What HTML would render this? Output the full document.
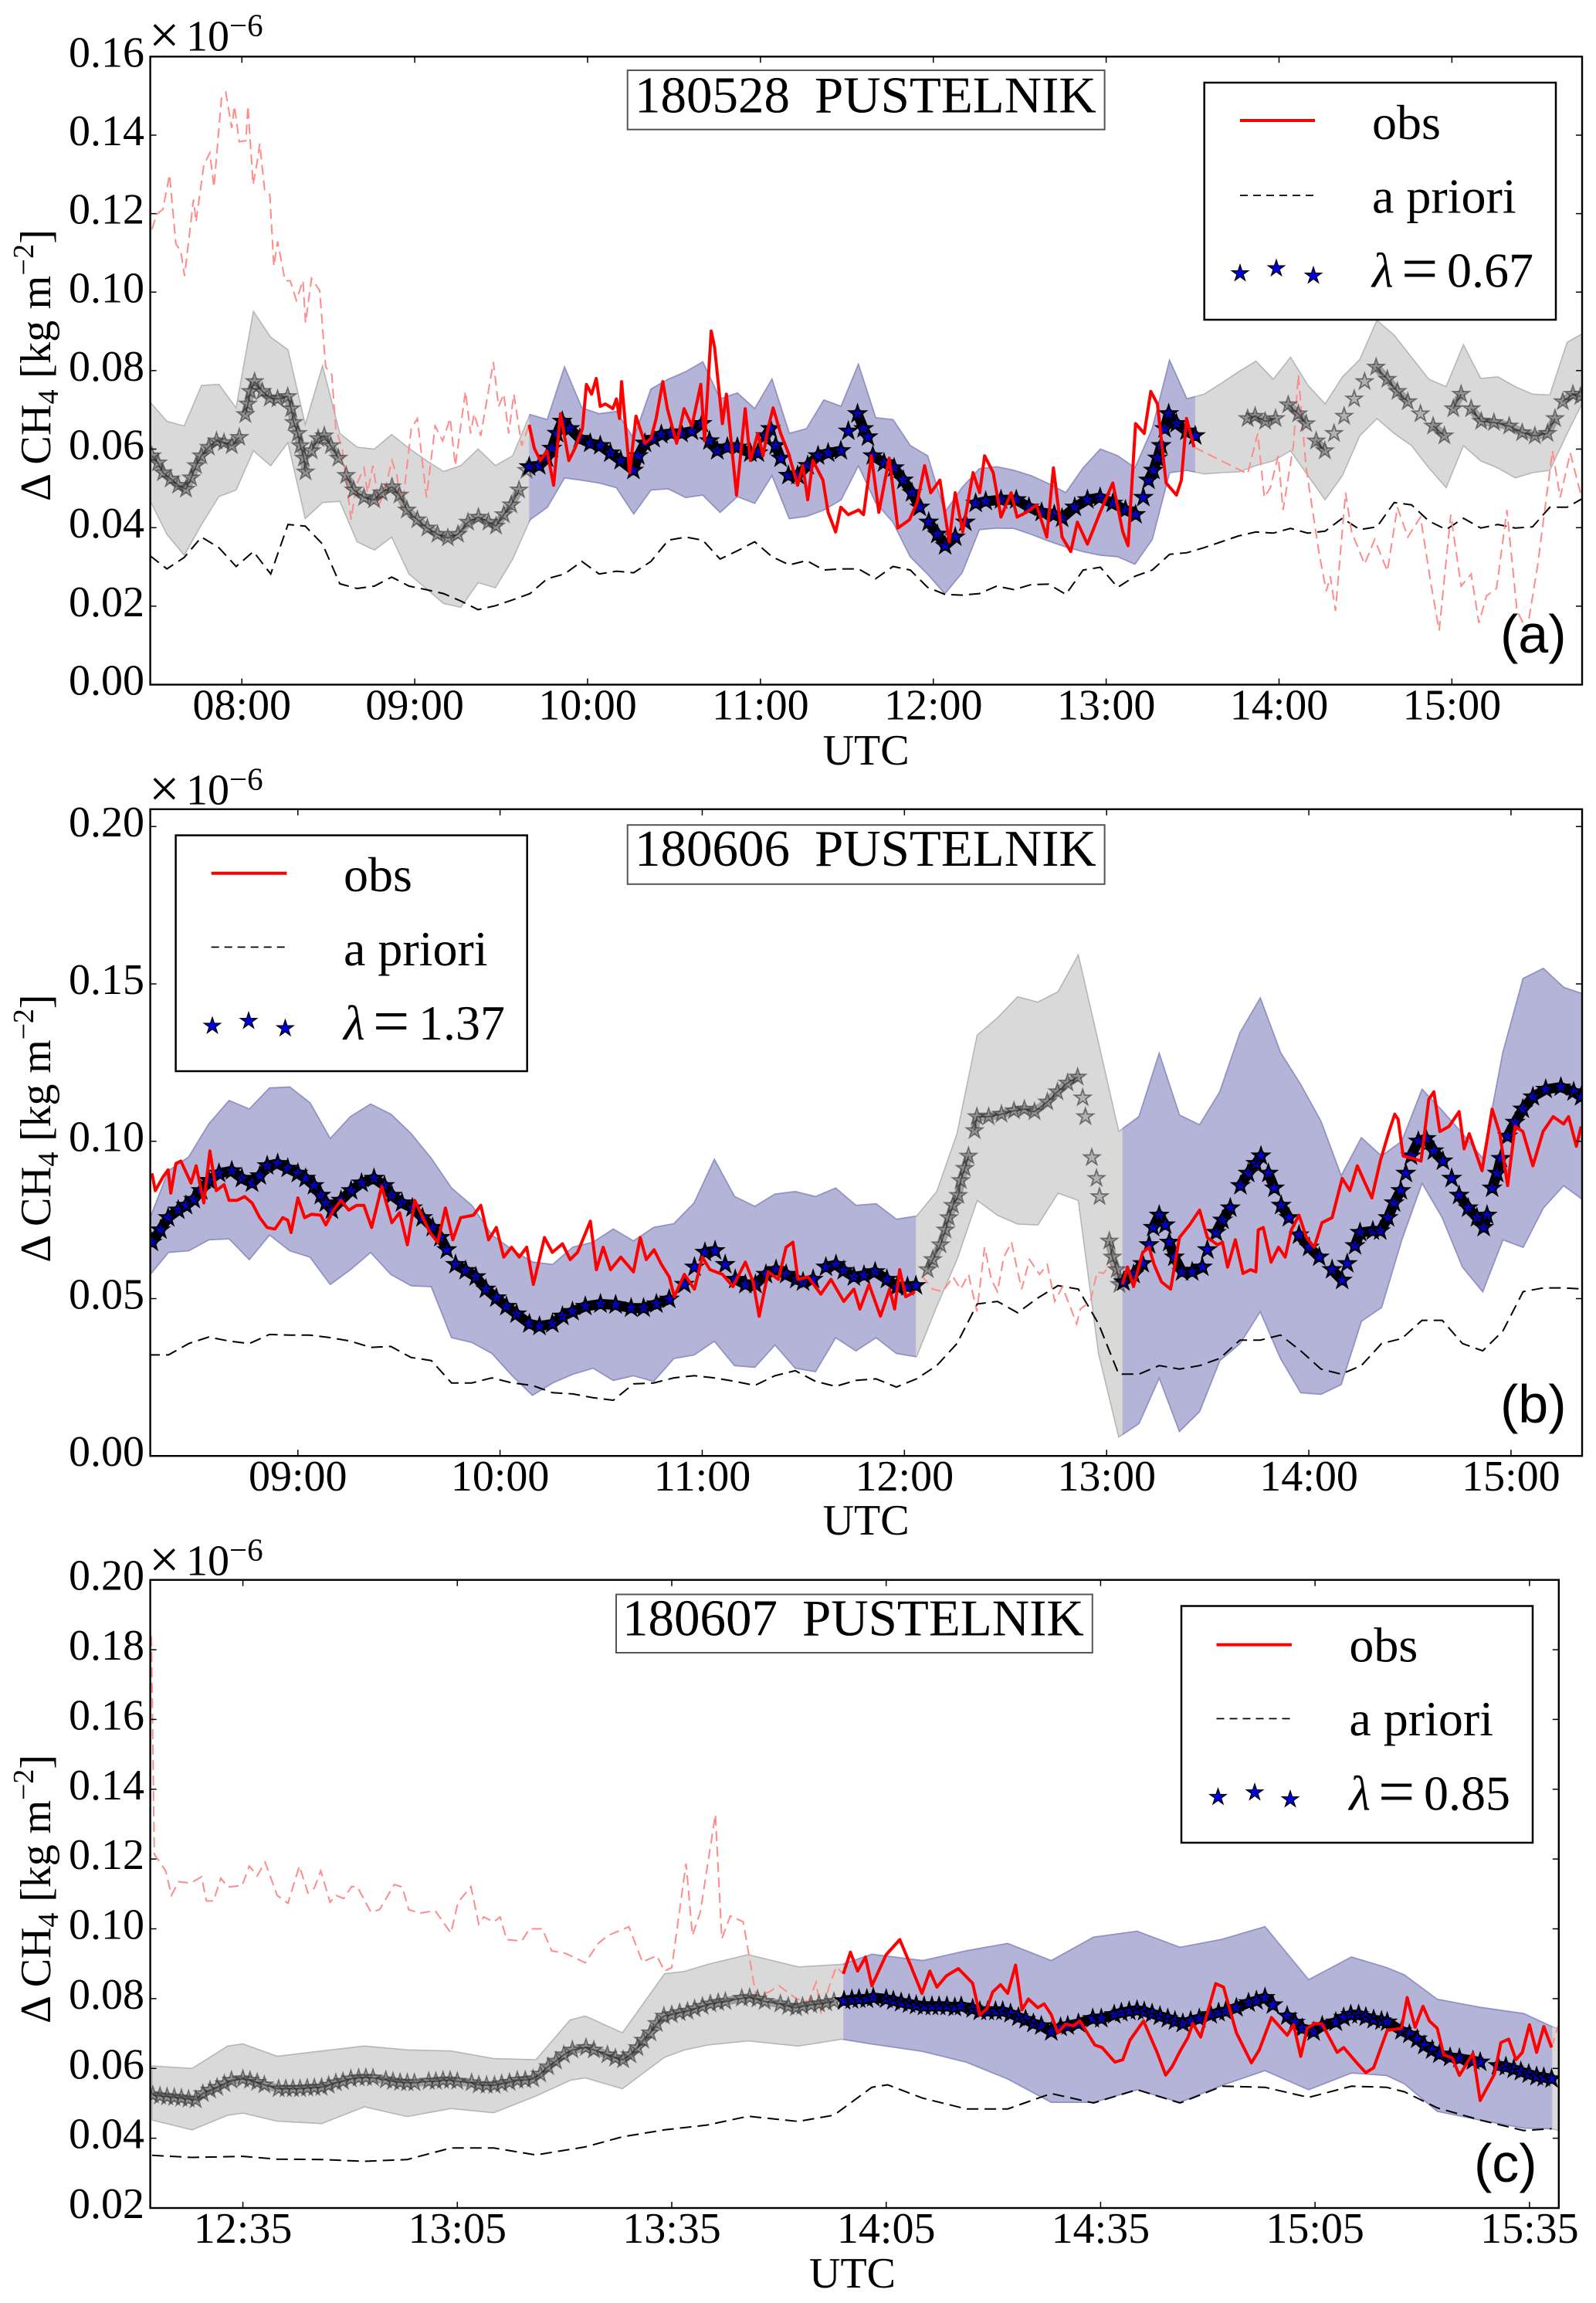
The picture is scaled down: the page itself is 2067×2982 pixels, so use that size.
<!DOCTYPE html>
<html lang="en">
<head>
<meta charset="utf-8">
<title>CH4 column enhancement, Pustelnik</title>
<style>
html,body{margin:0;padding:0;background:#fff}
svg{display:block}
text{font-family:"Liberation Serif",serif;fill:#000}
.tick{font-size:56px}
.title{font-size:67px}
.leg{font-size:64px}
.panel-tag{font-family:"Liberation Sans",sans-serif;font-size:70px}
</style>
</head>
<body>
<svg id="figure" xmlns="http://www.w3.org/2000/svg" width="2067" height="2982" viewBox="0 0 2067 2982">
<rect width="2067" height="2982" fill="#fff"/>
<defs>
<clipPath id="clip-a"><rect x="194.6" y="73.3" width="1854.4" height="813.2"/></clipPath>
<clipPath id="clip-b"><rect x="194.6" y="1047.8" width="1854.4" height="837.4"/></clipPath>
<clipPath id="clip-c"><rect x="194.6" y="2045.7" width="1824.2" height="813.3"/></clipPath>
</defs>

<g id="panel-a">
<g id="marks-a" clip-path="url(#clip-a)"></g>
<g id="axes-a"></g>
<text x="193" y="68.7" font-size="70">×</text>
<text class="tick" x="241" y="65.7">10</text>
<text x="297" y="46.5" font-size="41">−6</text>
<text class="tick" transform="translate(65,649) rotate(-90)" textLength="352">Δ CH<tspan font-size="38" dy="10">4</tspan><tspan dy="-10"> [kg m</tspan><tspan font-size="38" dy="-22">−2</tspan><tspan dy="22">]</tspan></text>
<text class="tick" x="1121.6" y="990" text-anchor="middle">UTC</text>
<rect x="812.7" y="91" width="617.9" height="76.7" fill="#fff" stroke="#555" stroke-width="2"/>
<text class="title" x="822" y="145.4">180528</text>
<text class="title" x="1055" y="145.4">PUSTELNIK</text>
<g>
<rect x="1559.7" y="107" width="455.3" height="307" fill="#fff" stroke="#000" stroke-width="2.5"/>
<line x1="1606" x2="1703" y1="156" y2="156" stroke="#f00" stroke-width="4"/>
<text class="leg" x="1777" y="180">obs</text>
<line x1="1606" x2="1703" y1="253" y2="253" stroke="#000" stroke-width="1.7" stroke-dasharray="10 7"/>
<text class="leg" x="1777" y="275.5">a priori</text>
<g class="legend-stars" data-points="1606,354 1653,347.6 1701,357"></g>
<text class="leg" x="1777" y="371.7"><tspan font-style="italic">λ</tspan><tspan x="1815" y="376" font-size="84">=</tspan><tspan x="1874" y="371.7">0.67</tspan></text>
</g>
<text class="panel-tag" x="1943" y="845">(a)</text>
</g>

<g id="panel-b">
<g id="marks-b" clip-path="url(#clip-b)"></g>
<g id="axes-b"></g>
<text x="193" y="1044.5" font-size="70">×</text>
<text class="tick" x="241" y="1041.5">10</text>
<text x="297" y="1022.3" font-size="41">−6</text>
<text class="tick" transform="translate(65,1634.6) rotate(-90)" textLength="347">Δ CH<tspan font-size="38" dy="10">4</tspan><tspan dy="-10"> [kg m</tspan><tspan font-size="38" dy="-22">−2</tspan><tspan dy="22">]</tspan></text>
<text class="tick" x="1121.6" y="1987" text-anchor="middle">UTC</text>
<rect x="812.7" y="1068.2" width="617.9" height="76.6" fill="#fff" stroke="#555" stroke-width="2"/>
<text class="title" x="822" y="1121">180606</text>
<text class="title" x="1055" y="1121">PUSTELNIK</text>
<g>
<rect x="227.6" y="1081.6" width="455.1" height="305.4" fill="#fff" stroke="#000" stroke-width="2.5"/>
<line x1="273.7" x2="371.4" y1="1130.7" y2="1130.7" stroke="#f00" stroke-width="4"/>
<text class="leg" x="445" y="1154">obs</text>
<line x1="273.7" x2="371.4" y1="1226.4" y2="1226.4" stroke="#000" stroke-width="1.7" stroke-dasharray="10 7"/>
<text class="leg" x="445" y="1250">a priori</text>
<g class="legend-stars" data-points="275,1328.4 322,1322 369.4,1331.6"></g>
<text class="leg" x="445" y="1346"><tspan font-style="italic">λ</tspan><tspan x="483" y="1350.3" font-size="84">=</tspan><tspan x="542" y="1346">1.37</tspan></text>
</g>
<text class="panel-tag" x="1943" y="1842">(b)</text>
</g>

<g id="panel-c">
<g id="marks-c" clip-path="url(#clip-c)"></g>
<g id="axes-c"></g>
<text x="193" y="2042.6" font-size="70">×</text>
<text class="tick" x="241" y="2039.6">10</text>
<text x="297" y="2020.4" font-size="41">−6</text>
<text class="tick" transform="translate(65,2620) rotate(-90)" textLength="348">Δ CH<tspan font-size="38" dy="10">4</tspan><tspan dy="-10"> [kg m</tspan><tspan font-size="38" dy="-22">−2</tspan><tspan dy="22">]</tspan></text>
<text class="tick" x="1104" y="2962" text-anchor="middle">UTC</text>
<rect x="798" y="2064.5" width="616.8" height="75.5" fill="#fff" stroke="#555" stroke-width="2"/>
<text class="title" x="806" y="2117.7">180607</text>
<text class="title" x="1039" y="2117.7">PUSTELNIK</text>
<g>
<rect x="1530" y="2079.5" width="455" height="306.5" fill="#fff" stroke="#000" stroke-width="2.5"/>
<line x1="1575.5" x2="1673" y1="2129.6" y2="2129.6" stroke="#f00" stroke-width="4"/>
<text class="leg" x="1747.4" y="2151.5">obs</text>
<line x1="1575.5" x2="1673" y1="2225.4" y2="2225.4" stroke="#000" stroke-width="1.7" stroke-dasharray="10 7"/>
<text class="leg" x="1747.4" y="2247">a priori</text>
<g class="legend-stars" data-points="1577.5,2326.9 1625,2321 1671,2330"></g>
<text class="leg" x="1747.4" y="2343.5"><tspan font-style="italic">λ</tspan><tspan x="1785" y="2347.8" font-size="84">=</tspan><tspan x="1844" y="2343.5">0.85</tspan></text>
</g>
<text class="panel-tag" x="1909" y="2825">(c)</text>
</g>
</svg>

<script>
// All times are minutes after 00:00 UTC. All values are in units of 10^-9 kg m^-2.

// ---------- Panel (a) 180528 ----------
const aXTickMinutes = [480,540,600,660,720,780,840,900];
const aXTickLabels = ['08:00','09:00','10:00','11:00','12:00','13:00','14:00','15:00'];
const aYTickValues = [0,20,40,60,80,100,120,140,160];
const aYTickLabels = ['0.00','0.02','0.04','0.06','0.08','0.10','0.12','0.14','0.16'];
const aFitWindows = [[579.7,810.9]];
const aBandMinutes = [448,454,460,466,472,478,484,490,496,502,508,514,520,526,532,538,544,550,556,562,568,574,580,586,592,598,604,610,616,622,628,634,640,646,652,658,664,670,676,682,688,694,700,706,712,718,724,730,736,742,748,754,760,766,772,778,784,790,796,802,808,814,820,826,832,838,844,850,856,862,868,874,880,886,892,898,904,910,916,922,928,934,940,946];
const aBandUpper = [72.1,67.1,65.9,76.2,76.5,70.5,95.1,88.5,85.3,66.2,81.2,64,60.5,60,63.7,60.2,57.1,54.3,55.8,60,55.8,58.3,68.8,67.5,80.9,70.5,69,69.6,62.7,75.3,77.8,79.7,82.2,72.8,74.3,70.3,77.8,64,65.2,72.5,70.9,81.6,68,67.5,60.9,58.3,43.9,50.2,55,55.5,54.6,53.2,51.2,48.9,55.2,60,58.3,55.2,65.2,82.6,72.8,74,76.8,79.7,82.4,77.8,83.4,76.3,71.5,78.4,82.8,92.8,89,83.4,77.8,75.9,86.6,78,78.4,75.9,74,73.8,87.2,89.7];
const aBandLower = [47.1,38.3,33,40.8,47.9,49.6,59.6,55.8,61.7,42.3,46.4,46.7,36.4,34.3,37.6,28.2,24.5,20.7,19.7,26,24.7,32,42,45.2,52.7,52.1,51.4,50.2,43.5,49.6,49.9,47.7,48.3,43.9,47.9,46.2,53.3,42.3,42.9,44.5,47.1,55.8,46.4,41.4,32.6,28.2,23.2,28.5,39.5,39.9,39.8,38.3,36.6,35.1,33.9,33,32.6,30.7,37,54,54.6,53.7,54,54.2,55.8,57,59.6,53.3,47.1,53.3,63.4,67.8,64,60.9,55.2,50.2,60.9,57,55.2,52.7,54,54.6,64,72.8];
const aPriorValues = [32.9,29.5,32.4,37.6,34.9,30.1,33.9,28.2,40.8,40.4,35.8,25.7,24.5,25.1,27.4,25.1,24.2,23.2,21.3,19.1,20.1,21.6,23.2,27,28.2,31.4,28.2,28.9,28.5,31.4,36.8,37.6,36.8,32,34.1,36.4,32.6,30.5,31.6,29.2,29.5,29.5,27,30.1,29.2,24.8,23,22.8,23.2,25.1,24.2,25.5,25.6,23,29.2,29.9,24.8,27.6,29.2,33.2,33.6,34.9,36.4,37.9,38.9,38.6,39.8,38.6,39.1,42.4,39.5,40.2,46.4,45.8,41.7,39.5,42.4,39.9,40.8,39.9,40.2,45.2,45.2,47.7];
const aObsMinutes = [448.8,450.4,452.6,454.9,457.1,458.8,460.1,463.2,464.1,466.8,468.9,470.3,472.9,474.4,476.5,477.4,479.1,481.4,482.1,483.9,485.3,486.2,487.9,489.7,491.1,492.4,495,496.8,498.9,501.2,502.1,504.2,507,509.1,511.2,512.6,514.8,517.9,519.7,522.4,523.6,525.5,527.6,529.4,532.1,533.8,535.6,538.8,540.9,544.1,547.1,549.7,552.3,554.1,557.6,559.4,560.6,562.9,567.3,569.1,570.9,572.6,574.4,577.1,579.7,
581.5,583.6,585.9,588.2,590.6,593.5,595.6,598.2,599.6,601.4,603,604.4,606.2,608.8,610,611.1,611.8,614.6,616.8,619.9,622,623.8,626.1,627.7,630.9,633.5,636.2,639.3,640.6,642.9,644.1,646.8,648.2,651.7,654.7,656.5,659.1,660.9,662.6,664.4,667,669.7,
672.9,674.7,676.4,678.2,681.7,683.5,686.1,687.9,690.5,694.1,695.8,698.5,701.1,704.7,707.7,711.7,714.4,717,719.1,722.3,725.5,727.6,730.2,733.8,736.1,737.8,740.8,743.5,747,749.1,752.3,755.8,759.4,761.7,764.7,767.7,770,773.5,777.9,782.3,785.8,787.6,790.2,793.2,795.5,797.8,800.8,804.4,806.1,807.9,810.5,
829.1,832.6,834.9,837,839.7,841.4,845,846.7,849.4,853.8,856.4,857.8,859.6,863.1,865.2,869.7,873.2,877.6,881.1,884.7,889.1,892.6,895.6,899.6,903.2,906.7,909.4,912,915.5,919.1,922.6,926.1,929.7,934.9,937.6,941.1,944.6];
const aObsValues = [116,119.8,121.1,129.9,112.3,110.4,104.1,123.6,117.9,132.4,135.5,126.7,149.3,150.9,141.8,147.4,138.3,138.6,147.4,127.4,133,137.8,126.1,124.8,106.6,112.9,102.9,102.9,97.9,102.9,92.2,103.5,100.4,80.9,79,65.2,60.2,42,50.8,55.2,48.9,55.8,45.8,48.9,57.1,53.3,44.5,65.2,67.8,47.7,65.9,62.1,67.8,55.8,74.7,64,69,63.4,82.2,70.9,74,64,74,60.9,66.2,
60.2,57.1,59.6,50.8,69,57.1,60.2,65.2,76.5,74,78,70.9,71.5,70.3,72.8,67.8,77.2,54,68.4,61.5,62.7,67.8,77.2,70.3,61.5,70.3,65.9,76.5,62.1,90.1,85.9,66.5,74,48.3,70.3,57.1,64,58.3,65.2,70.5,64,59,
50.8,55.8,47.1,57.1,52.1,43.9,38.9,45.2,43.3,44.5,43.3,58.3,43.9,57.7,39.9,42,46.4,55.8,48.9,52.1,36.4,48.9,38.9,54,48.9,58.3,54,42.7,48.9,42.7,43.9,45.8,37.6,55.2,37.6,33.9,41.4,35.8,43.9,51.4,38.9,35.4,66.5,64,74.7,71.5,51.4,48.3,52.1,67.8,60.5,
53.7,64,47.7,50.2,58.3,44.5,60.9,79,55.2,33.9,23.8,27.6,18.8,48.9,38.9,30.7,37,28.9,45.2,37.6,42.7,26.3,13.8,43.3,25.1,28.2,15.7,22.6,24.5,44.5,18.8,13.8,30.1,59.6,47.7,59,48.9];
const aStarMinutes = [448.8,450.9,452.6,455.3,457.9,460.6,462.4,464.1,465.9,468.5,471.2,473.8,476.5,479.1,481.2,482.1,483,484.4,487.1,489.7,492.4,495.9,497.1,498,499.4,500.3,501.5,502.1,504.2,506.5,508.6,510.9,513.5,516.2,518.8,522.4,525.9,528.5,532.1,534.7,537.3,540.9,544.4,547.9,551.5,555,558.5,562.1,565.6,568.2,570.9,573.5,576.2,578.8,
579.7,583.2,585.9,587.6,589.4,591.2,593.8,597.3,600.9,604.4,607.9,611.5,615.9,617.6,619.9,622.9,625.6,629.1,632.6,636.2,639.7,642.3,645,648.5,652,656.5,659.1,661.8,663.5,665.3,667,669.7,
672.9,676.4,680,683.5,687.9,690.5,693.7,695.8,697.3,699,702.9,706.4,709.6,712.6,715.3,718.4,721.4,724.1,727.6,731.1,734.7,738.2,743.5,748.8,753.2,757.6,762,764.7,769.1,773.5,777.9,782.3,786.7,790.2,792.9,794.7,796.4,797.8,799.1,800.3,801.7,804.4,807.9,810.9,
829.1,831.7,835.2,838.8,843.2,846.7,849.4,852.9,855.9,859.1,862.6,866.1,869.7,873.7,877.6,881.1,884.7,889.1,893.5,897.4,900.5,903.2,906.7,910.2,914.6,919.9,924.4,928.8,933.2,935.8,938.5,942,944.6];
const aStarValues = [58.3,56.5,54,52.4,50.8,49.8,52.7,55.8,58.3,60.5,62.1,61.7,60.9,63,68.8,71.5,74.7,77.2,74.7,73,72.8,73.4,70.3,66.8,64,60.9,57.7,54.2,59.6,62.7,63.4,60.9,57.7,53.3,49.6,47.7,47.1,48.9,50.4,48.3,44.5,42,39.9,38.3,37.4,38.3,41.4,42.7,41.4,40.4,43.3,45.8,49.6,54.6,
55.5,55.8,57.7,60.2,64,67.1,65.2,62.7,61.5,60.9,59,57.1,54.6,58.3,61.5,62.7,63.7,64,64,64.6,66.5,62.1,59.6,60.5,60.5,59,59,63.4,65.2,60.9,57.7,53.3,
53.3,55.8,58.3,59,59.6,64.6,69,65.2,63.1,58.3,56.5,55.2,52.1,48.9,45.2,41.4,38.3,35.4,37.6,41.4,46.2,46.7,47.1,47.1,45.2,43.9,43.3,42.4,45.2,47.1,47.7,46.2,44.5,43.3,47.7,52.1,54.6,57.7,60.9,65.2,69,66.5,64.6,63.4,
67.8,68.4,67.1,67.8,71.3,69,66.5,62.1,59.6,64,68.4,72.8,77.2,80.9,77.8,74.7,72.1,69,65.9,63.4,70.3,74,70.3,67.1,66.8,65.9,64.2,63.4,64,67.8,72.1,74,73.4];

// ---------- Panel (b) 180606 ----------
const bXTickMinutes = [540,600,660,720,780,840,900];
const bXTickLabels = ['09:00','10:00','11:00','12:00','13:00','14:00','15:00'];
const bYTickValues = [0,50,100,150,200];
const bYTickLabels = ['0.00','0.05','0.10','0.15','0.20'];
const bFitWindows = [[496,723.4],[784.7,921.5]];
const bBandMinutes = [495.6,501.6,507.6,513.6,519.6,525.6,531.6,537.6,543.6,549.6,555.6,561.6,567.6,573.6,579.6,585.6,591.6,597.6,603.6,609.6,615.6,621.6,627.6,633.6,639.6,645.6,651.6,657.6,663.6,669.6,675.6,681.6,687.6,693.6,699.6,705.6,711.6,717.6,723.6,729.6,735.6,741.6,747.6,753.6,759.6,765.6,771.6,777.6,783.6,789.6,795.6,801.6,807.6,813.6,819.6,825.6,831.6,837.6,843.6,849.6,855.6,861.6,867.6,873.6,879.6,885.6,891.6,897.6,903.6,909.6,915.6,921.6];
const bBandUpper = [74.1,90.6,95,105.5,112.9,110.2,116.9,117.2,112.2,100.8,107.8,111.8,108.6,102.4,94.5,85.1,79.6,70.2,65.5,61.6,60.8,66.3,67.9,72.1,68.3,72.6,73.8,80.4,94.2,82.4,79.3,83.2,84,82.4,85.1,79.6,80.1,75.2,76.2,84,102.4,133.7,139.2,145.9,144.2,147.5,159.2,131.3,103.1,107.8,127.9,108.3,105.2,115.7,134.5,145.5,128.2,118,106.3,89,101.1,95.3,100,116.5,109.7,102.4,94.5,128.2,151.7,154.9,148.9,146.7];
const bBandLower = [56.9,64.7,65.2,68.7,69,62.4,70.2,65.2,63.2,54.5,59.2,64.7,57.7,54.1,53.8,37.6,36.1,32.6,25.5,19.3,23.2,26,27.9,24,25.5,23.7,31,32.1,36.5,28.7,28.2,35.3,27.9,26.8,37.6,33.4,37.6,32.6,31.5,47.5,62.4,81.2,76.5,73.7,73.4,83.5,81.2,32.6,6,10.3,24.8,7.8,14.1,30.3,35.7,45.9,31,20.1,19.6,22.7,42.8,47.2,68.7,86.7,75.7,60,52.2,68.7,66.3,78.8,85.9,81.2];
const bPriorValues = [32.1,32.1,35.7,37.8,36.5,35.7,38.6,38.4,38.4,37.6,36.5,34.5,34.8,31.3,30.3,23.2,23.2,24.8,23.2,22.4,20.1,19.7,18.5,17.7,22.9,23.2,24.8,25.5,24.8,23.7,22.4,25.5,27.1,23.7,22.1,24,24.5,21.9,24.5,28.7,35.7,48.3,49.1,45.5,50.2,54.1,53,42,26,26,28.7,27.6,28.7,31,36.8,36.8,38.4,33.4,27.6,26,28.7,35.7,37.3,43.1,43.1,35.7,33.4,39.7,52.2,53.4,53.4,53];
const bObsMinutes = [496.7,497.7,500,501.5,502.3,503.8,505.3,508.3,509.8,512.1,513.9,515.8,518.1,519.6,521.9,524.2,526.4,528.7,530.9,533.2,535.5,537,538,540,542,544.1,546.8,548.3,550.6,552.8,555.1,557.4,559.6,561.9,564.9,567.9,570.2,572.5,574.7,579.2,581.5,583.8,586,588.3,592.1,594.3,596.6,598.9,601.1,603.4,605.7,607.9,609.9,613.2,615.5,618.5,620.8,623,626.8,628.6,630.6,632.8,635.8,639.6,641.6,643.4,645.7,647.9,650.2,651.7,654.7,657.7,660,662.3,666,669.1,672.8,675.1,676.9,679.6,682.6,684.9,686.9,688.4,
691.4,695.2,698.2,702,705,706.8,709.5,712.9,715.6,717.1,718.6,720.4,723.1,
725.4,728.4,731.4,734.4,736.7,739,741.5,743.8,745.8,747.6,749.5,751.8,753.3,754.8,757.1,760.1,762.4,764.6,766.9,771.1,772.2,775.2,777.2,779,781.2,784.7,
786.2,788,790.7,792.6,794.1,796.3,799,801.6,804.6,807.6,809.9,812.9,814.4,815.9,818.2,820.5,822.7,824.3,825,826.5,828.8,831,833,834.8,837.1,839.3,841.6,843.9,846.9,849.9,852.2,854.4,856.7,858.7,861.2,863.8,865.5,866.5,868,871,873.3,875.6,877.1,878.9,881.6,884.6,886.1,887.6,891.4,894.4,896.7,899,901.2,903.5,906.5,909.5,912.5,915.6,917.1,919.4,920.8];
const bObsValues = [89.8,84.3,88.7,90.9,83.5,92.9,93.7,86.7,92.2,80.4,96.9,84.3,86.2,81.2,81.2,82.4,80.4,75.7,72.6,72.1,75.7,74.9,71,82,75.7,76.8,76.5,73.4,78.1,81.2,78.1,79.6,79.6,72.6,85.6,74.1,77.3,67.1,81.2,71,67.9,78.8,68.7,75.7,76.5,79.6,68.7,72.6,63.2,66.3,63.2,66.3,54.5,69.4,64.7,67.4,62.4,64.7,74.6,59.2,66.3,59.2,63.2,58.5,69.4,62.4,65.5,60.8,56.9,50.6,57.7,53,63.2,59.2,57.7,53.8,61.6,55.3,44.4,58.5,56.1,66.3,67.9,56.1,
56.9,51.4,56.1,49.1,53,46.7,54.5,44.4,53,46.7,59.2,50.6,52.2,
56.9,53,52.2,56.9,53,57.7,45.9,66.3,56.1,52.2,63.2,67.9,60,53,62.4,57.7,60.8,49.1,53.8,42,46.7,49.1,58.5,58,60.8,54.5,
60,53.8,64.7,66.3,60.8,55.3,53,69.4,73.4,78.1,69.4,67.1,67.9,60,68.7,58,59.2,58.5,71.8,72.6,61.6,66.3,63.2,71.8,76.5,69.4,66.3,74.1,75.7,88.2,84.3,92.2,86.7,82,93.7,103.1,108.6,107,95.3,94.5,93.7,113.3,115.7,103.1,104.7,109.4,97.6,102.4,90.6,110.2,102.4,85.9,104.7,103.1,92.2,103.1,107.8,105.5,107.8,98.4,104.7];
const bStarMinutes = [496.7,499.2,501.5,504.5,506.8,509.1,511.3,513.6,516.6,520.4,523.4,526.4,528.7,530.9,534,537,540,542.3,544.8,546.8,548.3,550.1,552.8,555.8,558.9,562.6,565.7,567.9,570.9,574,577,580,582.3,584.2,586.8,589.8,592.8,595.8,598.9,601.9,604.9,608.7,611.7,615.5,618.5,621.5,625.3,629.8,634.3,638.9,642.6,646.4,650.2,654.7,657.7,660.8,663.8,666.8,669.8,672.8,675.8,678.9,681.9,684.9,687.9,
689.9,692.9,696.7,699.7,702,705,708,711.3,714.8,717.8,720.9,723.4,
726.9,728.4,730.7,732.2,733.2,734.4,736,736.7,737.9,739,740.8,741.5,745,748.8,752.5,755.6,758.6,762.4,765.4,768.4,771.4,772.9,773.7,775.6,777,777.9,780.8,781.7,783,783.8,
785,788,790.7,792.6,793.8,795.6,797.4,798.6,800.1,802.4,805.4,808.4,809.9,812.5,814.4,816.7,819.7,822,824.3,825.8,828,829.8,831.8,834.1,837.1,840.1,843.1,846.9,849.9,851.4,853.7,855.2,859,861.2,863.5,865.3,867.3,868.8,870.3,872.5,874.8,877.1,879.8,882.4,884.6,887.3,889.9,891.9,892.9,894.4,895.9,897,899,901.2,903.5,906.5,910.3,914.8,918.6,920.8];
const bStarValues = [67.9,71.8,75.7,78.1,79.6,81.5,84.3,87.5,89.8,90.6,88.2,86.7,89,92.2,92.9,91.4,89.8,88.2,85.9,82.8,80.4,78.1,81.2,84.3,86.7,88.2,85.9,82.8,80.4,78.8,75.7,72.6,69.4,65.5,60.8,58.9,56.9,53,50.2,47.5,45.1,42,41.2,42,44.4,45.9,47.5,48.3,48,47,47,48.3,49.8,54.5,60,64.7,65.2,60.8,56.1,54.5,54.5,57.7,59.2,57.7,56.1,
55.3,56.1,60,60.8,58.9,56.9,57.4,58.5,56.1,53.8,53.8,54.1,
59.2,62.4,67.1,71.8,75.7,79.6,82.8,87.5,91.4,95.3,103.4,107.8,107.8,108.6,109.7,110.2,109.4,112.5,115.7,118.5,120.4,113.8,107.8,94.8,88.2,82.4,68.3,63.2,59.2,54.5,
55.3,57.7,61.1,67.1,72.6,76.5,73.4,67.9,63.2,58.5,58.5,60,65.5,71,74.9,78.8,85.9,89.8,92.9,95.3,89.8,85.1,79.6,75.7,70.2,66.3,63.2,59.2,55.8,61.1,66.8,71,71.5,71.5,75.7,80.4,84.3,89.8,95.3,100,100.8,96.9,93.7,88.2,82.8,78.8,75.7,72.6,76.5,85.1,89.8,94.5,101.6,106,110.2,114.1,116.5,117.2,115.7,114.1];

// ---------- Panel (c) 180607 ----------
const cXTickMinutes = [755,785,815,845,875,905,935];
const cXTickLabels = ['12:35','13:05','13:35','14:05','14:35','15:05','15:35'];
const cYTickValues = [20,40,60,80,100,120,140,160,180,200];
const cYTickLabels = ['0.02','0.04','0.06','0.08','0.10','0.12','0.14','0.16','0.18','0.20'];
const cFitWindows = [[839,938.2]];
const cBandMinutes = [742.3,747.9,752.9,755,759.8,766,772,778,784.1,790.1,796,800.8,802.9,808.1,814,816.8,820,825.7,832.7,838.8,843,850.1,856.2,862,868.1,874,880.1,886.1,892,898,904.1,910.1,915,917.5,922.1,928.1,934.2,938.1,939.2];
const cBandUpper = [60.7,60,66.4,67,63.5,65,66.4,65.3,65,62.8,62.5,73.9,75,70.2,87.1,87.8,89.8,92.6,89.1,89.8,92.7,90.9,93.7,95.8,90.9,97.6,99.3,94.7,97,100.6,85.4,91.9,88.9,86.8,79.8,77.5,75.7,72,71.3];
const cBandLower = [45.2,42.4,46.6,47.2,44.9,44.2,49,46.2,48.5,47.3,52.1,56.6,57.3,54.2,63.2,65.3,66.7,67.9,66.4,68.4,67,64.9,61.8,57,50.3,50.3,53.9,50.3,55.2,59.4,53.9,58.7,58,55.6,47.7,45.2,42.9,42.7,42.2];
const cPriorMinutes = [742.3,747.9,755,759.8,766,772,778,784.1,790.1,796,802.9,808.1,814,820,825.7,832.7,837.7,843,845.2,850.1,856.2,862,868.1,874,880.1,886.1,892,898,904.1,910.1,915,917.5,922.1,928.1,934.2,938.1];
const cPriorValues = [35.1,34.5,34.8,34,33.9,33.4,33.9,37.2,37.2,35.2,37.5,40.4,42.4,43.8,46.3,44.8,46.6,54.6,55.3,51.5,48.4,48.4,52.8,50.1,53.9,50.1,54.9,54.6,51.7,54.9,54.6,53.3,48.7,45.2,42.2,42.7];
const cObsMinutes = [742.2,742.6,744.2,745,746,747.7,749.2,749.9,750.9,751.9,752.9,754.9,755.9,757,758.1,759.8,761.3,762.9,764.1,765,765.9,767.2,768,769.1,770.2,771,772.9,774.1,776.2,777.3,778.2,779.8,781.9,784.1,785.1,786.9,788,788.7,790.1,791,791.9,794,795.1,796.9,798.2,800.1,802.9,804.7,806.1,809,810.9,812.9,814,815,817,817.9,819,821.1,822,823.2,825,826.8,828.6,830,832.5,834.1,835.2,835.9,837,838,839,
840,841,842.1,843,845,846.9,848.4,850,851.1,852.1,853.4,855.1,857.1,858.1,859.1,859.9,861,862,863.1,864,864.9,866.2,867.1,868.1,869,870.1,871.2,872.1,874.2,875.2,877,878.1,879.1,881,882.9,884.1,885,886.1,887.2,887.9,889,890,891.1,892.2,894,896.1,897.2,898.9,901.1,902,903,903.9,905,906,908.1,909,911,912.1,913.2,915.1,917.1,917.9,919,920.1,921,922.1,923,924.2,925.2,927.1,928.1,930.1,931,932.1,933.1,934,935,936,937,938.1,939];
const cObsValues = [183.8,121.4,116.6,109.6,113.5,113.1,114.9,108,108,114.5,112,112.4,118,115.2,119.1,109.6,107.3,118,110.3,111.7,116.6,107.6,109.6,108.7,112.1,112.1,104.8,105.5,112.7,112,105.5,104.5,105.2,98.8,107.6,112.1,101.3,103.4,102,103.4,96.9,96.5,100,100,93.7,93,90.3,95.8,98.1,100.6,90.5,92.3,87.9,88.9,118.7,98.1,104.8,132.8,97.2,103.7,102,80.6,81.9,83.7,79.9,79.2,84.7,75.7,83.3,89.1,87.1,
93.3,87.9,91.9,83.7,92.6,96.9,89.6,81.5,87.9,83.3,86.5,88.6,84.4,75.3,77.1,81.9,84,81.5,89.6,76.8,79.9,77.4,78.5,75.4,70.2,72.7,72.2,73.6,66.7,66,61.8,62.5,68.1,73.6,64.6,58.1,60.5,64.9,68.8,72.9,69,76.4,84.3,83.3,70.2,61.6,65.3,74.6,69.5,72.5,63.5,71.5,72.9,72.7,64.6,66,61.2,58.8,60.2,70.9,71.5,80.3,71.8,77.8,73.6,71.5,63.9,63,58,64.3,50.8,58.4,67.4,68.4,62.5,64.6,72.5,64.6,72,66,72.2];
const cStarMinutes = [742.4,743.4,744.4,745.4,746.4,747.4,748.4,749.4,750.4,751.4,752.4,753.4,755,756,757,758,760,761,762,763,764,765,766,767,768,769,770.1,771.2,772.2,773.2,775,776,777,778,779,781,782,783,784,785,787,788,789.1,790.2,791.2,792.3,793.4,794.5,795.6,796.6,797.7,798.8,799.9,801.1,803,804.1,806,807.1,808.2,809.2,810.2,811,812,812.9,813.9,815,816.1,817.2,818.2,819.3,820.4,821.5,822.5,824.8,825.9,827,828,830.2,831.3,832.4,833.3,834.5,835.6,836.6,837.7,
839.1,840.2,841.2,842.3,843.2,845,846,847.1,848.2,849.2,850.3,851.4,852.4,853.5,854.6,855.5,857.1,858.1,859.2,860.3,861.3,862.4,863.5,864.5,865.6,866.7,868.1,869.4,870.4,871.9,873.9,875.1,876.9,877.9,879,880.1,881.1,882.2,883.3,884.4,885.4,886.5,887.6,888.8,890.4,891.5,892.5,894,895.7,896.8,898,899.1,901.1,902.2,903.2,904.8,906,907.9,909,910,911.1,912.1,913.2,914.3,915.1,917.1,918.2,919.3,920.3,921.4,922.4,923.9,925.2,927.1,928.1,930.6,931.7,932.8,933.8,934.9,936,937,938.1];
const cStarValues = [52.4,52.1,51.9,51.7,51.5,51.2,51,52.8,53.8,54.6,55.6,56.6,57,56.6,56,55.3,54.2,54.2,54.2,54.2,54.4,54.5,54.6,55.2,55.9,56.3,57,57.3,57.4,57.3,56.7,56.3,56,55.9,55.9,56.3,56.3,56.6,56.6,56.3,55.9,55.3,55.2,55.2,55.6,56,56.6,56.7,57,58.4,60.5,62.1,63.9,65.3,66,65.3,63.9,63,62.5,63.9,66,68.1,70.2,72.9,75,75.4,76,76.4,77.1,77.8,78.5,78.9,79.2,80.1,80.3,79.9,79.2,78.5,77.8,77.4,77.8,78.2,78.5,78.8,79.2,
79.4,79.7,79.9,79.9,80.3,79.9,79.4,78.9,78.5,78.1,77.8,77.8,77.8,77.8,77.5,77.8,77.1,76.4,76.4,76.4,76.4,75.7,74.7,74,72.9,72.2,70.5,71.8,72.2,72.9,74.3,74.3,75.4,76,76.4,76.7,76.3,75.7,75,74.3,73.6,72.9,73.6,74.3,75.4,76,76.4,77.4,78.8,79.4,80.3,78.2,75,73.2,71.5,70.5,72.2,73.3,74.6,75.4,75.4,74.7,74,73.6,73.3,70.8,69.8,68.4,66.6,65.3,64.1,63.2,62.9,62.2,61.8,60.8,60.5,59.8,59.1,58.4,57.7,57.4,57];

// ---------- Rendering ----------
const NS = 'http://www.w3.org/2000/svg';
const STAR_R = 11;
const STAR_LINK_MAX_PX = 22;

function mk(tag, attrs) {
  const el = document.createElementNS(NS, tag);
  for (const k in attrs) el.setAttribute(k, attrs[k]);
  return el;
}
function linear(d0, d1, r0, r1) {
  return v => r0 + (v - d0) * (r1 - r0) / (d1 - d0);
}
function starPath(cx, cy, R) {
  let d = '';
  for (let i = 0; i < 10; i++) {
    const r = i % 2 ? R * 0.382 : R;
    const a = -Math.PI / 2 + i * Math.PI / 5;
    d += (i ? 'L' : 'M') + (cx + r * Math.cos(a)).toFixed(1) + ' ' + (cy + r * Math.sin(a)).toFixed(1);
  }
  return d + 'Z';
}
function lineD(xs, ys) {
  return xs.map((v, i) => (i ? 'L' : 'M') + v.toFixed(1) + ' ' + ys[i].toFixed(1)).join('');
}
function inWindows(t, windows) {
  return windows.some(w => t >= w[0] && t <= w[1]);
}

function drawPanel(p) {
  const marks = document.getElementById('marks-' + p.id);
  const axes = document.getElementById('axes-' + p.id);
  const x = linear(p.xDomain[0], p.xDomain[1], p.left, p.right);
  const y = linear(p.yDomain[0], p.yDomain[1], p.bottom, p.top);

  // uncertainty band: grey everywhere, blue inside fit windows
  const bandXs = p.bandT.map(x);
  const bandD = lineD(bandXs.concat(bandXs.slice().reverse()),
    p.bandUp.map(y).concat(p.bandLo.map(y).reverse())) + 'Z';
  const greyBand = mk('path', {d: bandD, fill: '#d9d9d9', stroke: '#b6b6b6', 'stroke-width': 1.6});
  
  
  marks.appendChild(greyBand);

  p.fit.forEach((w, i) => {
    const cid = 'fit-' + p.id + '-' + i;
    const cp = mk('clipPath', {id: cid});
    cp.appendChild(mk('rect', {x: x(w[0]), y: p.top, width: x(w[1]) - x(w[0]), height: p.bottom - p.top}));
    marks.appendChild(cp);
    const blueBand = mk('path', {d: bandD, fill: '#b4b4d9', stroke: '#9292c5', 'stroke-width': 1.8, 'clip-path': 'url(#' + cid + ')'});
    
    
    marks.appendChild(blueBand);
  });

  // a priori
  const prior = mk('path', {d: lineD(p.priorT.map(x), p.priorV.map(y)), fill: 'none', stroke: '#000', 'stroke-width': 2, 'stroke-dasharray': '15 8'});
  
  
  marks.appendChild(prior);

  // observations outside the fit window (faint dashed)
  const runs = [];
  for (let i = 0; i + 1 < p.obsT.length; i++) {
    const inside = inWindows((p.obsT[i] + p.obsT[i + 1]) / 2, p.fit);
    const last = runs[runs.length - 1];
    if (last && last.inside === inside) last.idx.push(i + 1);
    else runs.push({inside: inside, idx: [i, i + 1]});
  }
  runs.filter(r => !r.inside).forEach(r => {
    const el = mk('path', {d: lineD(r.idx.map(i => x(p.obsT[i])), r.idx.map(i => y(p.obsV[i]))), fill: 'none', stroke: '#ff8a8a', 'stroke-width': 2, 'stroke-dasharray': '13 7'});
    
    
    marks.appendChild(el);
  });

  // star worm: neighbouring stars are joined so that the overlap darkens as in the dense original
  let wormFit = '';
  let wormGrey = '';
  p.starT.forEach((t, i) => {
    if (i === 0) return;
    const t0 = p.starT[i - 1];
    const x0 = x(t0), y0 = y(p.starV[i - 1]), x1 = x(t), y1 = y(p.starV[i]);
    if (Math.hypot(x1 - x0, y1 - y0) > STAR_LINK_MAX_PX) return;
    const fa = inWindows(t0, p.fit), fb = inWindows(t, p.fit);
    if (fa !== fb) return;
    const seg = 'M' + x0.toFixed(1) + ' ' + y0.toFixed(1) + 'L' + x1.toFixed(1) + ' ' + y1.toFixed(1);
    if (fa) wormFit += seg; else wormGrey += seg;
  });
  const underGrey = mk('path', {d: wormGrey, fill: 'none', stroke: 'rgba(60,60,60,.38)', 'stroke-width': 11, 'stroke-linecap': 'round'});
  
  
  marks.appendChild(underGrey);
  const underFit = mk('path', {d: wormFit, fill: 'none', stroke: '#000', 'stroke-width': 13, 'stroke-linecap': 'round'});
  
  
  marks.appendChild(underFit);

  // stars
  p.starT.forEach((t, i) => {
    const fitted = inWindows(t, p.fit);
    const star = mk('path', fitted
      ? {d: starPath(x(t), y(p.starV[i]), STAR_R), fill: '#0000e0', stroke: '#000', 'stroke-width': 2.2, 'stroke-linejoin': 'miter'}
      : {d: starPath(x(t), y(p.starV[i]), STAR_R), fill: 'rgba(130,130,130,.45)', stroke: 'rgba(50,50,50,.62)', 'stroke-width': 1.8});
    
    
    marks.appendChild(star);
  });

  const overGrey = mk('path', {d: wormGrey, fill: 'none', stroke: 'rgba(30,30,30,.55)', 'stroke-width': 2});
  
  
  marks.appendChild(overGrey);
  const overFit = mk('path', {d: wormFit, fill: 'none', stroke: '#000', 'stroke-width': 3, 'stroke-dasharray': '2 5', 'opacity': 0.75});
  
  
  marks.appendChild(overFit);

  // observations inside the fit window
  runs.filter(r => r.inside).forEach(r => {
    const el = mk('path', {d: lineD(r.idx.map(i => x(p.obsT[i])), r.idx.map(i => y(p.obsV[i]))), fill: 'none', stroke: '#f00', 'stroke-width': 4, 'stroke-linejoin': 'round'});
    
    
    marks.appendChild(el);
  });

  // frame
  const frame = mk('rect', {x: p.left, y: p.top, width: p.right - p.left, height: p.bottom - p.top, fill: 'none', stroke: '#000', 'stroke-width': 2.4});
  
  
  axes.appendChild(frame);

  // x ticks
  p.xTicks.forEach((t, i) => {
    const px = x(t);
    const tk = mk('path', {d: 'M' + px + ' ' + p.bottom + 'v-8M' + px + ' ' + p.top + 'v8', stroke: '#000', 'stroke-width': 1.5, fill: 'none'});
    
    
    axes.appendChild(tk);
    const lb = mk('text', {x: px, y: p.bottom + 45, 'text-anchor': 'middle', class: 'tick'});
    lb.textContent = p.xLabels[i];
    
    
    axes.appendChild(lb);
  });

  // y ticks
  p.yTicks.forEach((v, i) => {
    const py = y(v);
    const tk = mk('path', {d: 'M' + p.left + ' ' + py + 'h8M' + p.right + ' ' + py + 'h-8', stroke: '#000', 'stroke-width': 1.5, fill: 'none'});
    
    
    axes.appendChild(tk);
    const lb = mk('text', {x: 187, y: py + 13, 'text-anchor': 'end', class: 'tick'});
    lb.textContent = p.yLabels[i];
    
    
    axes.appendChild(lb);
  });
}

drawPanel({id: 'a', left: 194.6, right: 2049, top: 73.3, bottom: 886.5, xDomain: [448.2, 945.2], yDomain: [0, 160],
  bandT: aBandMinutes, bandUp: aBandUpper, bandLo: aBandLower, priorT: aBandMinutes, priorV: aPriorValues,
  obsT: aObsMinutes, obsV: aObsValues, starT: aStarMinutes, starV: aStarValues, fit: aFitWindows,
  xTicks: aXTickMinutes, xLabels: aXTickLabels, yTicks: aYTickValues, yLabels: aYTickLabels});
drawPanel({id: 'b', left: 194.6, right: 2049, top: 1047.8, bottom: 1885.2, xDomain: [496.2, 921.1], yDomain: [0, 205.5],
  bandT: bBandMinutes, bandUp: bBandUpper, bandLo: bBandLower, priorT: bBandMinutes, priorV: bPriorValues,
  obsT: bObsMinutes, obsV: bObsValues, starT: bStarMinutes, starV: bStarValues, fit: bFitWindows,
  xTicks: bXTickMinutes, xLabels: bXTickLabels, yTicks: bYTickValues, yLabels: bYTickLabels});
drawPanel({id: 'c', left: 194.6, right: 2018.8, top: 2045.7, bottom: 2859, xDomain: [742.04, 939.1], yDomain: [20, 200],
  bandT: cBandMinutes, bandUp: cBandUpper, bandLo: cBandLower, priorT: cPriorMinutes, priorV: cPriorValues,
  obsT: cObsMinutes, obsV: cObsValues, starT: cStarMinutes, starV: cStarValues, fit: cFitWindows,
  xTicks: cXTickMinutes, xLabels: cXTickLabels, yTicks: cYTickValues, yLabels: cYTickLabels});

document.querySelectorAll('.legend-stars').forEach(g => {
  g.getAttribute('data-points').split(' ').forEach(pt => {
    const c = pt.split(',').map(Number);
    const s = mk('path', {d: starPath(c[0], c[1], 11), fill: '#0000e6', stroke: '#000', 'stroke-width': 1.3});
    
    
    g.appendChild(s);
  });
});
</script>
</body>
</html>
